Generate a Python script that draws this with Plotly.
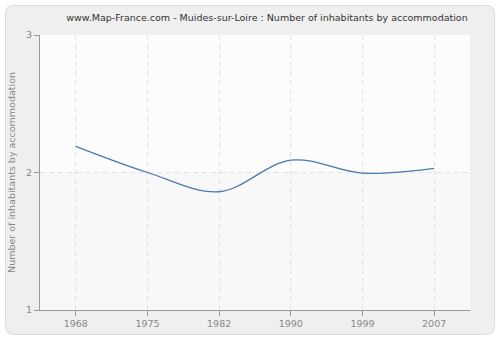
import plotly.graph_objects as go

years = ["1968", "1975", "1982", "1990", "1999", "2007"]
values = [2.19, 2.0, 1.86, 2.09, 1.995, 2.03]
y_ticks = [1, 2, 3]

W, H = 500, 340
L, R, T, B = 40, 30, 35, 30

def px_to_paper(px, py):
    return (px - L) / (W - L - R), (H - B - py) / (H - T - B)

# rounded outer frame path
def rounded_path(x0, y0, x1, y1, r):
    def p(x, y):
        a, b = px_to_paper(x, y)
        return f"{a:.5f},{b:.5f}"
    return (f"M {p(x0 + r, y0)} L {p(x1 - r, y0)} Q {p(x1, y0)} {p(x1, y0 + r)} "
            f"L {p(x1, y1 - r)} Q {p(x1, y1)} {p(x1 - r, y1)} L {p(x0 + r, y1)} "
            f"Q {p(x0, y1)} {p(x0, y1 - r)} L {p(x0, y0 + r)} Q {p(x0, y0)} {p(x0 + r, y0)} Z")

fig = go.Figure()
fig.add_trace(go.Scatter(
    x=years, y=values, mode="lines",
    line=dict(color="#4a78b0", width=1.3, shape="spline", smoothing=1.0),
    hoverinfo="skip", showlegend=False,
))

shapes = [
    dict(type="path", path=rounded_path(5.5, 5.5, 494.5, 334.5, 8), xref="paper", yref="paper",
         fillcolor="#efefef", line=dict(color="#dcdcdc", width=1), layer="below"),
    dict(type="rect", xref="paper", yref="paper", x0=0, x1=1, y0=0, y1=1,
         fillcolor="#fcfcfc", line=dict(width=0), layer="below"),
    dict(type="rect", xref="paper", yref="y", x0=0, x1=1, y0=1, y1=2,
         fillcolor="#f8f8f8", line=dict(width=0), layer="below"),
]

grid_common = dict(showgrid=True, gridcolor="#e2e2e2", griddash="5px,4px", gridwidth=1)

fig.update_layout(
    width=W, height=H,
    margin=dict(l=L, r=R, t=T, b=B),
    paper_bgcolor="#ffffff",
    plot_bgcolor="rgba(0,0,0,0)",
    shapes=shapes,
    font=dict(family="DejaVu Sans", size=11, color="#888888"),
    title=dict(text="www.Map-France.com - Muides-sur-Loire : Number of inhabitants by accommodation",
               x=267 / W, xanchor="center", y=1 - 18 / H, yanchor="middle",
               font=dict(family="DejaVu Sans", size=9.5, color="#333333")),
    xaxis=dict(type="category", range=[-0.5, 5.5], showline=True, linecolor="#999999", linewidth=1,
               ticks="outside", ticklen=5, tickcolor="#999999",
               tickfont=dict(size=9.5, color="#888888"), zeroline=False, fixedrange=True,
               **grid_common),
    yaxis=dict(range=[1, 3], tickvals=y_ticks, showline=True, linecolor="#999999", linewidth=1,
               ticks="outside", ticklen=5, tickcolor="#999999",
               tickfont=dict(size=9.5, color="#888888"), zeroline=False,
               title=dict(text="Number of inhabitants by accommodation", standoff=8,
                          font=dict(size=9.5, color="#888888")), fixedrange=True,
               **grid_common),
)

fig.write_html("out.html")
